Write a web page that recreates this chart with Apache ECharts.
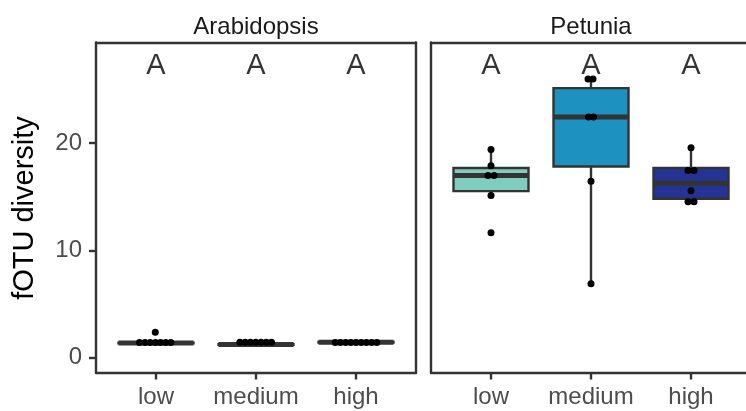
<!DOCTYPE html>
<html>
<head>
<meta charset="utf-8">
<script src="https://cdn.jsdelivr.net/npm/echarts@6/dist/echarts.min.js"></script>
<style>
  html, body { margin: 0; padding: 0; background: #fff; }
  #chart { width: 746px; height: 411px; background: #fff; }
</style>
</head>
<body>
<div id="chart"></div>
<script>
// ---------------- data ----------------
const categories = ['low', 'medium', 'high'];
const categoryPositions = [1, 2, 3];
const panelTitles = ['Arabidopsis', 'Petunia'];
const yTicks = [0, 10, 20];
const letters = ['A', 'A', 'A'];
const letterY = 27.2;

// box stats: [lower whisker, Q1, median, Q3, upper whisker]
const arabidopsisBoxes = [
  [1.32, 1.32, 1.35, 1.38, 1.40],
  [1.18, 1.18, 1.21, 1.24, 1.24],
  [1.39, 1.39, 1.42, 1.45, 1.45]
];
const petuniaBoxes = [
  [15.13, 15.53, 16.99, 17.68, 19.42],
  [6.88, 17.83, 22.44, 25.14, 25.99],
  [14.54, 14.82, 16.27, 17.68, 19.58]
];

// points (values) and their horizontal swarm offsets (category units)
const arabLowValues   = [1.40, 1.40, 1.40, 1.40, 1.40, 1.40, 1.40, 2.36];
const arabLowOffsets  = [-0.165, -0.11, -0.058, -0.005, 0.045, 0.097, 0.148, -0.007];
const arabMedValues   = [1.42, 1.42, 1.42, 1.42, 1.42, 1.42, 1.42];
const arabMedOffsets  = [-0.162, -0.109, -0.056, -0.003, 0.05, 0.103, 0.155];
const arabHighValues  = [1.40, 1.40, 1.40, 1.40, 1.40, 1.40, 1.40, 1.40, 1.40];
const arabHighOffsets = [-0.208, -0.156, -0.104, -0.052, 0, 0.052, 0.104, 0.156, 0.208];

const petLowValues   = [19.42, 17.90, 16.99, 16.99, 15.13, 11.64];
const petLowOffsets  = [0, 0, -0.03, 0.03, 0, 0];
const petMedValues   = [25.99, 25.99, 22.44, 22.44, 16.46, 6.88];
const petMedOffsets  = [-0.03, 0.02, -0.025, 0.025, 0, 0];
const petHighValues  = [19.58, 17.46, 17.46, 15.56, 14.54, 14.54];
const petHighOffsets = [0, -0.03, 0.03, 0, -0.03, 0.03];

// ---------------- styles ----------------
const fills = ['#7fcdbb', '#1d91c0', '#253494'];
const lineColor = '#333333';
const boxWidthUnits = 0.75;
const X_MIN = 0.4, X_MAX = 3.6, Y_MIN = -1.4, Y_MAX = 29.4;
const LW = 2.4;
const TICK_LEN = 7;

// ---------------- build ----------------
function boxData(boxes) {
  return boxes.map((b, i) => [categoryPositions[i]].concat(b));
}
function pointData(valueSets, offsetSets) {
  const out = [];
  valueSets.forEach((vals, g) => {
    vals.forEach((v, k) => out.push([categoryPositions[g] + offsetSets[g][k], v]));
  });
  return out;
}

function renderBox(params, api) {
  const x = api.value(0);
  const lo = api.coord([x, api.value(1)]);
  const q1 = api.coord([x, api.value(2)]);
  const med = api.coord([x, api.value(3)]);
  const q3 = api.coord([x, api.value(4)]);
  const hi = api.coord([x, api.value(5)]);
  const half = api.size([boxWidthUnits, 0])[0] / 2;
  const fill = fills[params.dataIndex];
  return {
    type: 'group',
    children: [
      { type: 'line', shape: { x1: lo[0], y1: lo[1], x2: q1[0], y2: q1[1] },
        style: { stroke: lineColor, lineWidth: LW } },
      { type: 'line', shape: { x1: q3[0], y1: q3[1], x2: hi[0], y2: hi[1] },
        style: { stroke: lineColor, lineWidth: LW } },
      { type: 'rect', shape: { x: q3[0] - half, y: q3[1], width: 2 * half, height: q1[1] - q3[1] },
        style: { fill: fill, stroke: lineColor, lineWidth: LW } },
      { type: 'line', shape: { x1: med[0] - half, y1: med[1], x2: med[0] + half, y2: med[1] },
        style: { stroke: lineColor, lineWidth: 5, lineCap: 'butt' } }
    ]
  };
}

const labelFont = 'Liberation Sans, Arial, Helvetica, sans-serif';

function axisLine(show) {
  return { show: show, onZero: false, lineStyle: { color: lineColor, width: LW } };
}
function xAxesFor(gridIndex) {
  return [{
    type: 'value', gridIndex: gridIndex, min: X_MIN, max: X_MAX, position: 'bottom',
    axisLine: axisLine(true),
    splitLine: { show: false },
    axisTick: { show: true, inside: false, customValues: categoryPositions, length: TICK_LEN,
      lineStyle: { color: lineColor, width: LW } },
    axisLabel: { show: true, customValues: categoryPositions, margin: 13,
      formatter: v => categories[categoryPositions.indexOf(Math.round(v))],
      fontSize: 24, color: '#4d4d4d', fontFamily: labelFont }
  }, {
    type: 'value', gridIndex: gridIndex, min: X_MIN, max: X_MAX, position: 'top',
    axisLine: axisLine(true), splitLine: { show: false }, axisTick: { show: false }, axisLabel: { show: false }
  }];
}
function yAxesFor(gridIndex, showLabels) {
  return [{
    type: 'value', gridIndex: gridIndex, min: Y_MIN, max: Y_MAX, position: 'left',
    axisLine: axisLine(true),
    splitLine: { show: false },
    axisTick: { show: showLabels, inside: false, customValues: yTicks, length: TICK_LEN,
      lineStyle: { color: lineColor, width: LW } },
    axisLabel: { show: showLabels, customValues: yTicks, margin: 14,
      fontSize: 24, color: '#4d4d4d', fontFamily: labelFont }
  }, {
    type: 'value', gridIndex: gridIndex, min: Y_MIN, max: Y_MAX, position: 'right',
    axisLine: axisLine(true), splitLine: { show: false }, axisTick: { show: false }, axisLabel: { show: false }
  }];
}

const gridBase = { top: 42.5, height: 330, width: 320, show: false, containLabel: false, outerBoundsMode: 'none' };

const letterData = letters.map((t, i) => [categoryPositions[i], letterY, t]);

// xAxis: 0,1 grid0 (bottom, top); 2,3 grid1
// yAxis: 0,1 grid0 (left, right); 2,3 grid1
const option = {
  animation: false,
  grid: [
    Object.assign({}, gridBase, { left: 96 }),
    Object.assign({}, gridBase, { left: 431 })
  ],
  xAxis: xAxesFor(0).concat(xAxesFor(1)),
  yAxis: yAxesFor(0, true).concat(yAxesFor(1, false)),
  graphic: [
    { type: 'text', x: 256, y: 27,
      style: { text: panelTitles[0], align: 'center', verticalAlign: 'middle', textAlign: 'center', textVerticalAlign: 'middle',
        fontSize: 24, fontFamily: labelFont, fill: '#1a1a1a' } },
    { type: 'text', x: 591, y: 27,
      style: { text: panelTitles[1], align: 'center', verticalAlign: 'middle', textAlign: 'center', textVerticalAlign: 'middle',
        fontSize: 24, fontFamily: labelFont, fill: '#1a1a1a' } },
    { type: 'text', x: 25, y: 208, rotation: Math.PI / 2,
      style: { text: 'fOTU diversity', align: 'center', verticalAlign: 'middle', textAlign: 'center', textVerticalAlign: 'middle',
        fontSize: 29, fontFamily: labelFont, fill: '#000' } }
  ],
  series: [
    { type: 'custom', xAxisIndex: 0, yAxisIndex: 0, renderItem: renderBox, encode: { x: 0, y: [1, 2, 3, 4, 5] },
      data: boxData(arabidopsisBoxes), silent: true, z: 2 },
    { type: 'custom', xAxisIndex: 2, yAxisIndex: 2, renderItem: renderBox, encode: { x: 0, y: [1, 2, 3, 4, 5] },
      data: boxData(petuniaBoxes), silent: true, z: 2 },
    { type: 'scatter', xAxisIndex: 0, yAxisIndex: 0, symbolSize: 7, itemStyle: { color: '#000', opacity: 1 },
      data: pointData([arabLowValues, arabMedValues, arabHighValues], [arabLowOffsets, arabMedOffsets, arabHighOffsets]),
      silent: true, z: 3 },
    { type: 'scatter', xAxisIndex: 2, yAxisIndex: 2, symbolSize: 7, itemStyle: { color: '#000', opacity: 1 },
      data: pointData([petLowValues, petMedValues, petHighValues], [petLowOffsets, petMedOffsets, petHighOffsets]),
      silent: true, z: 3 },
    { type: 'scatter', xAxisIndex: 0, yAxisIndex: 0, symbolSize: 0, data: letterData, silent: true,
      label: { show: true, position: 'inside', formatter: p => p.data[2], fontSize: 29, color: '#000', fontFamily: labelFont } },
    { type: 'scatter', xAxisIndex: 2, yAxisIndex: 2, symbolSize: 0, data: letterData, silent: true,
      label: { show: true, position: 'inside', formatter: p => p.data[2], fontSize: 29, color: '#000', fontFamily: labelFont } }
  ]
};

const chart = echarts.init(document.getElementById('chart'), null, { renderer: 'canvas' });
chart.setOption(option);
</script>
</body>
</html>
